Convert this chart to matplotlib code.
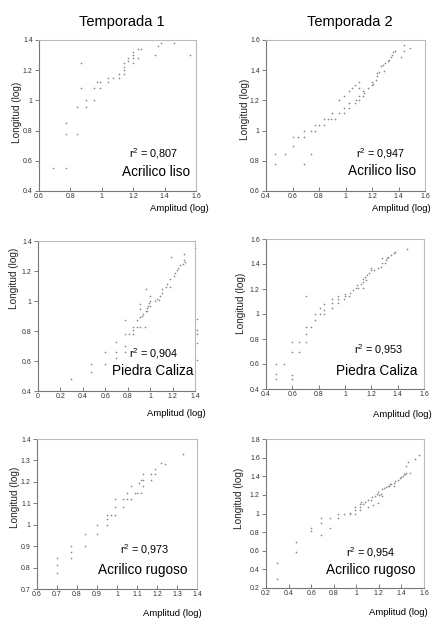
import numpy as np
import matplotlib
matplotlib.use('Agg')
import matplotlib.pyplot as plt

plt.rcParams['font.family'] = ['Liberation Sans', 'DejaVu Sans']

# Temporada 1 - Acrilico liso
t1_liso_x = [0.69, 0.77, 0.77, 0.77, 0.84, 0.84, 0.87, 0.87, 0.90, 0.90, 0.95, 0.95, 0.97, 0.99, 0.99,
             1.04, 1.04, 1.07, 1.11, 1.11, 1.14, 1.14, 1.14, 1.14, 1.17, 1.17, 1.20, 1.20, 1.20, 1.20,
             1.23, 1.23, 1.25, 1.34, 1.36, 1.38, 1.46, 1.56]
t1_liso_y = [0.55, 0.55, 0.85, 0.78, 0.78, 0.955, 1.245, 1.08, 0.955, 1.0, 1.0, 1.08, 1.12, 1.12, 1.08,
             1.15, 1.12, 1.15, 1.175, 1.15, 1.175, 1.2, 1.22, 1.245, 1.28, 1.26, 1.245, 1.30, 1.32, 1.28,
             1.28, 1.34, 1.34, 1.30, 1.36, 1.38, 1.38, 1.30]

# Temporada 2 - Acrilico liso
t2_liso_x = [0.47, 0.47, 0.54, 0.60, 0.60, 0.64, 0.69, 0.69, 0.69, 0.74, 0.74, 0.77, 0.77, 0.80, 0.84,
             0.84, 0.87, 0.89, 0.90, 0.92, 0.95, 0.95, 0.99, 0.99, 0.99, 1.03, 1.03, 1.03, 1.05, 1.07,
             1.07, 1.08, 1.10, 1.10, 1.10, 1.10, 1.13, 1.13, 1.14, 1.17, 1.20, 1.20, 1.21, 1.23, 1.24,
             1.24, 1.25, 1.27, 1.28, 1.29, 1.30, 1.32, 1.33, 1.34, 1.35, 1.36, 1.37, 1.42, 1.44, 1.44, 1.49]
t2_liso_y = [0.845, 0.78, 0.845, 0.955, 0.90, 0.955, 0.955, 1.0, 0.78, 1.0, 0.845, 1.0, 1.04, 1.04, 1.04,
             1.08, 1.08, 1.08, 1.115, 1.08, 1.205, 1.115, 1.23, 1.15, 1.115, 1.18, 1.15, 1.26, 1.28, 1.30,
             1.18, 1.205, 1.205, 1.23, 1.28, 1.32, 1.26, 1.23, 1.25, 1.28, 1.30, 1.32, 1.31, 1.335, 1.36,
             1.38, 1.39, 1.425, 1.435, 1.395, 1.45, 1.46, 1.47, 1.49, 1.50, 1.52, 1.53, 1.49, 1.53, 1.57, 1.545]

# Temporada 1 - Piedra Caliza
t1_caliza_x = [0.29, 0.47, 0.47, 0.60, 0.60, 0.70, 0.70, 0.70, 0.78, 0.78, 0.78, 0.78, 0.81, 0.85, 0.85,
               0.85, 0.88, 0.88, 0.91, 0.91, 0.91, 0.91, 0.93, 0.94, 0.95, 0.96, 0.96, 0.97, 0.97, 0.98,
               0.99, 1.0, 1.0, 1.0, 1.04, 1.06, 1.08, 1.09, 1.11, 1.11, 1.14, 1.15, 1.18, 1.18, 1.19,
               1.21, 1.22, 1.24, 1.25, 1.27, 1.29, 1.30, 1.30, 1.31, 1.40,
               1.42, 1.42, 1.42, 1.42, 1.42]
t1_caliza_y = [0.48, 0.58, 0.53, 0.58, 0.66, 0.62, 0.66, 0.73, 0.66, 0.70, 0.78, 0.875, 0.78, 0.78, 0.83,
               0.81, 0.83, 0.875, 0.895, 0.83, 0.945, 0.98, 0.90, 0.915, 0.83, 0.935, 1.08, 0.935, 0.955, 0.97,
               0.985, 1.0, 1.035, 0.97, 1.0, 1.015, 1.01, 1.035, 1.08, 1.055, 1.095, 1.11, 1.15, 1.095, 1.295,
               1.165, 1.185, 1.205, 1.22, 1.24, 1.25, 1.275, 1.31, 1.26, 1.355,
               0.88, 0.81, 0.78, 0.72, 0.61]

# Temporada 2 - Piedra Caliza
t2_caliza_x = [0.475, 0.475, 0.475, 0.54, 0.60, 0.60, 0.60, 0.60, 0.65, 0.65, 0.70, 0.70, 0.70, 0.70, 0.74,
               0.77, 0.77, 0.81, 0.81, 0.84, 0.84, 0.84, 0.90, 0.90, 0.90, 0.95, 0.95, 0.95, 0.99, 1.0,
               1.0, 1.03, 1.04, 1.06, 1.08, 1.09, 1.10, 1.12, 1.14, 1.14, 1.14, 1.15, 1.16, 1.17, 1.18,
               1.20, 1.20, 1.22, 1.25, 1.27, 1.28, 1.28, 1.30, 1.31, 1.32, 1.33, 1.35, 1.37, 1.38, 1.47]
t2_caliza_y = [0.48, 0.60, 0.52, 0.60, 0.48, 0.515, 0.70, 0.78, 0.70, 0.78, 0.78, 0.84, 0.90, 1.145, 0.90,
               0.955, 1.0, 1.0, 1.045, 1.0, 1.03, 1.08, 1.045, 1.085, 1.12, 1.085, 1.12, 1.145, 1.12, 1.145,
               1.16, 1.145, 1.165, 1.19, 1.205, 1.23, 1.205, 1.24, 1.21, 1.26, 1.28, 1.30, 1.27, 1.31, 1.33,
               1.35, 1.365, 1.355, 1.365, 1.38, 1.41, 1.45, 1.405, 1.43, 1.445, 1.46, 1.47, 1.485, 1.495, 1.52]

# Temporada 1 - Acrilico rugoso
t1_rugoso_x = [0.70, 0.70, 0.70, 0.77, 0.77, 0.77, 0.84, 0.84, 0.90, 0.90, 0.95, 0.95, 0.95, 0.97, 0.99,
               0.99, 0.99, 1.03, 1.03, 1.05, 1.05, 1.07, 1.07, 1.09, 1.10, 1.11, 1.12, 1.12, 1.13, 1.13,
               1.13, 1.17, 1.17, 1.19, 1.19, 1.22, 1.24, 1.33]
t1_rugoso_y = [0.845, 0.81, 0.777, 0.90, 0.875, 0.845, 0.955, 0.90, 1.0, 0.955, 1.045, 1.025, 1.0, 1.045, 1.12,
               1.085, 1.045, 1.085, 1.12, 1.15, 1.12, 1.12, 1.18, 1.15, 1.15, 1.195, 1.15, 1.21, 1.18, 1.21,
               1.235, 1.21, 1.235, 1.235, 1.26, 1.29, 1.285, 1.33]

# Temporada 2 - Acrilico rugoso
t2_rugoso_x = [0.30, 0.30, 0.47, 0.47, 0.60, 0.60, 0.69, 0.69, 0.69, 0.77, 0.77, 0.84, 0.84, 0.89, 0.94,
               0.94, 0.99, 0.99, 0.99, 1.03, 1.03, 1.03, 1.04, 1.06, 1.08, 1.10, 1.10, 1.13, 1.14, 1.15,
               1.17, 1.18, 1.19, 1.19, 1.20, 1.22, 1.23, 1.23, 1.25, 1.26, 1.28, 1.29, 1.30, 1.31, 1.33,
               1.33, 1.34, 1.37, 1.39, 1.40, 1.41, 1.42, 1.43, 1.44, 1.44, 1.46, 1.48, 1.52, 1.56]
t2_rugoso_y = [0.468, 0.30, 0.69, 0.59, 0.84, 0.81, 0.95, 0.90, 0.77, 0.95, 0.84, 1.0, 0.95, 1.0, 1.01,
               1.0, 1.07, 1.04, 1.0, 1.07, 1.10, 1.04, 1.12, 1.10, 1.12, 1.07, 1.14, 1.15, 1.18, 1.09,
               1.19, 1.21, 1.11, 1.23, 1.20, 1.21, 1.26, 1.19, 1.27, 1.28, 1.30, 1.30, 1.32, 1.32, 1.33,
               1.30, 1.35, 1.36, 1.38, 1.39, 1.40, 1.42, 1.42, 1.44, 1.51, 1.55, 1.44, 1.59, 1.63]

titulos = ['Temporada 1', 'Temporada 2']

paneles = [
    # x, y, r2, nombre, xlim, ylim, xticks, yticks
    (t1_liso_x, t1_liso_y, '0,807', 'Acrilico liso', (0.6, 1.6), (0.4, 1.4),
     [0.6, 0.8, 1, 1.2, 1.4, 1.6], [0.4, 0.6, 0.8, 1, 1.2, 1.4]),
    (t2_liso_x, t2_liso_y, '0,947', 'Acrilico liso', (0.4, 1.6), (0.6, 1.6),
     [0.4, 0.6, 0.8, 1, 1.2, 1.4, 1.6], [0.6, 0.8, 1, 1.2, 1.4, 1.6]),
    (t1_caliza_x, t1_caliza_y, '0,904', 'Piedra Caliza', (0, 1.4), (0.4, 1.4),
     [0, 0.2, 0.4, 0.6, 0.8, 1, 1.2, 1.4], [0.4, 0.6, 0.8, 1, 1.2, 1.4]),
    (t2_caliza_x, t2_caliza_y, '0,953', 'Piedra Caliza', (0.4, 1.6), (0.4, 1.6),
     [0.4, 0.6, 0.8, 1, 1.2, 1.4, 1.6], [0.4, 0.6, 0.8, 1, 1.2, 1.4, 1.6]),
    (t1_rugoso_x, t1_rugoso_y, '0,973', 'Acrilico rugoso', (0.6, 1.4), (0.7, 1.4),
     [0.6, 0.7, 0.8, 0.9, 1, 1.1, 1.2, 1.3, 1.4], [0.7, 0.8, 0.9, 1, 1.1, 1.2, 1.3, 1.4]),
    (t2_rugoso_x, t2_rugoso_y, '0,954', 'Acrilico rugoso', (0.2, 1.6), (0.2, 1.8),
     [0.2, 0.4, 0.6, 0.8, 1, 1.2, 1.4, 1.6], [0.2, 0.4, 0.6, 0.8, 1, 1.2, 1.4, 1.6, 1.8]),
]

# posiciones en pixeles (x0, y_top, ancho, alto) y ubicacion de textos
cajas = [(39, 40, 157, 151), (266, 40, 159, 151),
         (38, 241, 157, 150), (266, 239, 158, 150),
         (37, 439, 160, 150), (266, 439, 158, 149)]
pos_r2 = [(0.73, 0.25), (0.72, 0.245), (0.74, 0.247), (0.715, 0.26), (0.675, 0.26), (0.665, 0.24)]
pos_nombre = [(0.745, 0.126), (0.73, 0.13), (0.73, 0.133), (0.70, 0.12), (0.66, 0.127), (0.665, 0.12)]
pos_xlabel = [(0.707, -0.113), (0.665, -0.113), (0.694, -0.153), (0.68, -0.167), (0.66, -0.16), (0.65, -0.167)]
pos_ylabel = [(-0.14, 0.52), (-0.13, 0.54), (-0.15, 0.75), (-0.16, 0.57), (-0.14, 0.61), (-0.17, 0.60)]

W, H = 432, 618
fig = plt.figure(figsize=(W / 100, H / 100), dpi=100)

def fmt(v):
    return ('%g' % v)

for i, (x, y, r2, nombre, xl, yl, xt, yt) in enumerate(paneles):
    x0, ytop, w, h = cajas[i]
    ax = fig.add_axes([x0 / W, 1 - (ytop + h) / H, w / W, h / H])
    ax.scatter(x, y, marker='+', s=3, linewidths=0.45, color='#8a8a8a', clip_on=False)
    ax.set_xlim(*xl)
    ax.set_ylim(*yl)
    ax.set_xticks(xt)
    ax.set_yticks(yt)
    ax.set_xticklabels([fmt(v) for v in xt])
    ax.set_yticklabels([fmt(v) for v in yt])
    ax.tick_params(labelsize=5, length=3, width=0.6, color='#666666', labelcolor='#333333', pad=1.5)
    ax.tick_params(axis='x', direction='in')
    ax.tick_params(axis='y', direction='out')
    for s in ['top', 'right']:
        ax.spines[s].set_color('#bbbbbb')
        ax.spines[s].set_linewidth(0.8)
    for s in ['left', 'bottom']:
        ax.spines[s].set_color('#777777')
        ax.spines[s].set_linewidth(0.8)
    ax.text(*pos_r2[i], r'r$^{\mathregular{2}}$ = ' + r2, transform=ax.transAxes,
            ha='center', va='center', fontsize=7.8)
    ax.text(*pos_nombre[i], nombre, transform=ax.transAxes,
            ha='center', va='center', fontsize=9.8)
    ax.text(*pos_xlabel[i], 'Amplitud (log)', transform=ax.transAxes,
            ha='left', va='center', fontsize=6.8, clip_on=False)
    ax.text(*pos_ylabel[i], 'Longitud (log)', transform=ax.transAxes, rotation=90,
            ha='center', va='center', fontsize=7.2, color='#222222')

fig.text(122 / W, 1 - 22 / H, titulos[0], ha='center', va='center', fontsize=10.5)
fig.text(350 / W, 1 - 22 / H, titulos[1], ha='center', va='center', fontsize=10.5)

fig.savefig('out.png', dpi=100)
